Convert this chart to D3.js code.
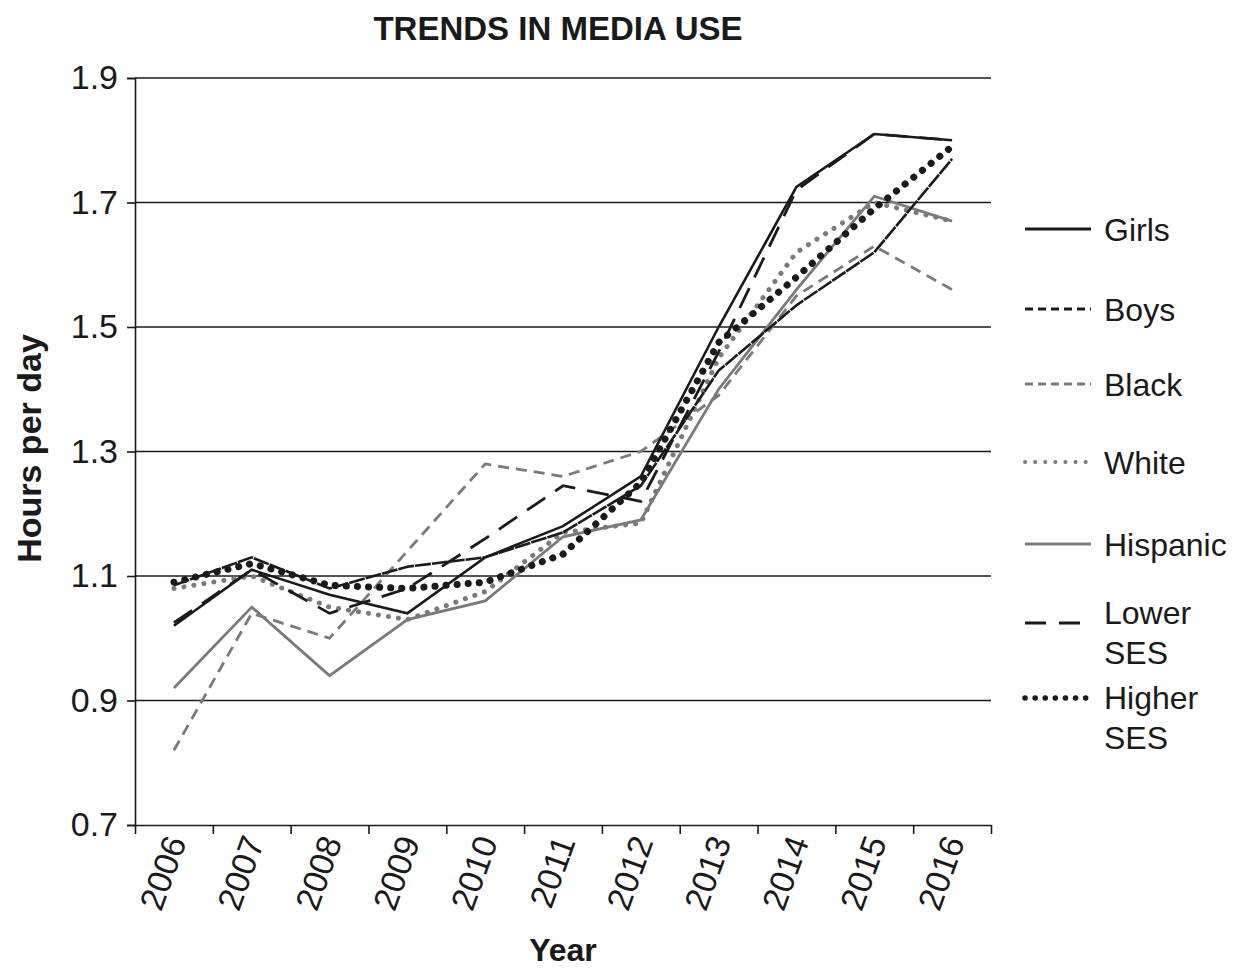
<!DOCTYPE html>
<html>
<head>
<meta charset="utf-8">
<script src="https://cdn.jsdelivr.net/npm/d3@7"></script>
<style>
    body { margin: 0; background: #fff; }
    svg text { font-family: "Liberation Sans", Arial, Helvetica, sans-serif; fill: #1a1a1a; }
</style>
</head>
<body>
<div id="chart"></div>
<script>
// Data
const years = [2006, 2007, 2008, 2009, 2010, 2011, 2012, 2013, 2014, 2015, 2016];
const girls = [1.02, 1.11, 1.07, 1.04, 1.13, 1.18, 1.26, 1.50, 1.725, 1.81, 1.80];
const boys = [1.085, 1.13, 1.08, 1.115, 1.13, 1.17, 1.245, 1.43, 1.535, 1.62, 1.77];
const black = [0.82, 1.04, 1.00, 1.14, 1.28, 1.26, 1.30, 1.39, 1.55, 1.63, 1.56];
const white = [1.08, 1.10, 1.05, 1.03, 1.075, 1.17, 1.185, 1.45, 1.62, 1.70, 1.67];
const hispanic = [0.92, 1.05, 0.94, 1.03, 1.06, 1.163, 1.19, 1.40, 1.56, 1.71, 1.67];
const lowerSes = [1.025, 1.11, 1.04, 1.08, 1.16, 1.245, 1.22, 1.46, 1.72, 1.81, 1.80];
const higherSes = [1.09, 1.12, 1.085, 1.08, 1.09, 1.135, 1.25, 1.475, 1.58, 1.69, 1.79];
const yTicks = [0.7, 0.9, 1.1, 1.3, 1.5, 1.7, 1.9];

const seriesNames = ['Girls', 'Boys', 'Black', 'White', 'Hispanic', 'Lower SES', 'Higher SES'];
const seriesValues = [girls, boys, black, white, hispanic, lowerSes, higherSes];

// Line styles
const styles = {
    'Girls': { color: '#1a1a1a', width: 2.6, dash: null, legendDash: null, cap: 'butt' },
    'Boys': { color: '#1a1a1a', width: 2.6, dash: '16,1', legendDash: '8,5', cap: 'butt' },
    'Black': { color: '#7a7a7a', width: 2.8, dash: '11,7', legendDash: '8,5', cap: 'butt' },
    'White': { color: '#7a7a7a', width: 5, dash: '0.1,10', legendDash: '0.1,10', cap: 'round' },
    'Hispanic': { color: '#7a7a7a', width: 2.8, dash: null, legendDash: null, cap: 'butt' },
    'Lower SES': { color: '#1a1a1a', width: 2.8, dash: '22,12', legendDash: '21,13', cap: 'butt' },
    'Higher SES': { color: '#1a1a1a', width: 7, dash: '0.1,11', legendDash: '0.1,10', cap: 'round' }
};
const drawOrder = ['Black', 'White', 'Hispanic', 'Lower SES', 'Boys', 'Girls', 'Higher SES'];

const width = 1236;
const height = 968;
const margin = { left: 135, right: 245, top: 78, bottom: 143 };
const plotW = width - margin.left - margin.right;
const plotH = height - margin.top - margin.bottom;

const svg = d3.select('#chart')
    .append('svg')
    .attr('width', width)
    .attr('height', height);

// Title
svg.append('text')
    .attr('x', 558)
    .attr('y', 40)
    .attr('text-anchor', 'middle')
    .attr('font-size', 33)
    .attr('font-weight', 'bold')
    .text('TRENDS IN MEDIA USE');

const chart = svg.append('g')
    .attr('transform', `translate(${margin.left},${margin.top})`);

// Scales
const x = d3.scaleBand()
    .domain(years)
    .range([0, plotW]);

const xEdge = d3.scaleLinear()
    .domain([years[0] - 0.5, years[years.length - 1] + 0.5])
    .range([0, plotW]);

const y = d3.scaleLinear()
    .domain([0.7, 1.9])
    .range([plotH, 0]);

// Grid lines
chart.append('g')
    .attr('class', 'grid')
    .selectAll('line')
    .data(yTicks.filter(d => d > 0.7))
    .join('line')
    .attr('x1', 0)
    .attr('x2', plotW)
    .attr('y1', d => y(d))
    .attr('y2', d => y(d))
    .attr('stroke', '#1a1a1a')
    .attr('stroke-width', 1.6);

// Y axis
const yAxis = chart.append('g')
    .attr('class', 'y-axis')
    .call(d3.axisLeft(y).tickValues(yTicks).tickFormat(d3.format('.1f')).tickSize(8).tickPadding(9));

yAxis.selectAll('text')
    .attr('font-size', 34)
    .attr('fill', '#1a1a1a');

// X axis ticks at band edges
const edges = years.map(d => d - 0.5).concat([years[years.length - 1] + 0.5]);
chart.append('g')
    .attr('class', 'x-axis')
    .attr('transform', `translate(0,${plotH})`)
    .call(d3.axisBottom(xEdge).tickValues(edges).tickFormat('').tickSize(9).tickSizeOuter(0));

// X labels
chart.append('g')
    .attr('class', 'x-labels')
    .selectAll('text')
    .data(years)
    .join('text')
    .attr('transform', d => `translate(${x(d) + x.bandwidth() / 2 - 10},${plotH + 8}) rotate(-70)`)
    .attr('text-anchor', 'end')
    .attr('dy', '0.72em')
    .attr('font-size', 34)
    .text(d => d);

chart.selectAll('.domain, .tick line')
    .attr('stroke', '#1a1a1a')
    .attr('stroke-width', 1.6);

// Axis labels
svg.append('text')
    .attr('transform', `translate(41,${margin.top + plotH / 2 - 3}) rotate(-90)`)
    .attr('text-anchor', 'middle')
    .attr('font-size', 34)
    .attr('font-weight', 'bold')
    .text('Hours per day');

svg.append('text')
    .attr('x', 563)
    .attr('y', 961)
    .attr('text-anchor', 'middle')
    .attr('font-size', 32)
    .attr('font-weight', 'bold')
    .text('Year');

// Lines
const line = d3.line()
    .x((d, i) => x(years[i]) + x.bandwidth() / 2)
    .y(d => y(d));

chart.append('g')
    .attr('class', 'lines')
    .selectAll('path')
    .data(drawOrder)
    .join('path')
    .attr('d', name => line(seriesValues[seriesNames.indexOf(name)]))
    .attr('fill', 'none')
    .attr('stroke', name => styles[name].color)
    .attr('stroke-width', name => styles[name].width)
    .attr('stroke-dasharray', name => styles[name].dash)
    .attr('stroke-linecap', name => styles[name].cap)
    .attr('stroke-linejoin', 'miter');

// Legend
const legendRows = [
    { name: 'Girls', lineY: 229, text: ['Girls'], textY: [229] },
    { name: 'Boys', lineY: 309, text: ['Boys'], textY: [309] },
    { name: 'Black', lineY: 384, text: ['Black'], textY: [384] },
    { name: 'White', lineY: 462, text: ['White'], textY: [462] },
    { name: 'Hispanic', lineY: 544, text: ['Hispanic'], textY: [544] },
    { name: 'Lower SES', lineY: 623, text: ['Lower', 'SES'], textY: [612, 652] },
    { name: 'Higher SES', lineY: 698, text: ['Higher', 'SES'], textY: [697, 737] }
];

const legend = svg.append('g')
    .attr('class', 'legend');

const item = legend.selectAll('g')
    .data(legendRows)
    .join('g');

item.append('line')
    .attr('x1', 1025)
    .attr('x2', d => d.name === 'Lower SES' ? 1092 : 1091)
    .attr('y1', d => d.lineY)
    .attr('y2', d => d.lineY)
    .attr('stroke', d => styles[d.name].color)
    .attr('stroke-width', d => d.name === 'Higher SES' ? 5.5 : (d.name === 'White' ? 4 : 2.8))
    .attr('stroke-dasharray', d => styles[d.name].legendDash)
    .attr('stroke-linecap', d => styles[d.name].cap);

item.each(function (d) {
    d3.select(this).selectAll('text')
        .data(d.text.map((t, i) => ({ t, yy: d.textY[i] })))
        .join('text')
        .attr('x', 1104)
        .attr('y', e => e.yy)
        .attr('dy', '0.36em')
        .attr('font-size', 32)
        .text(e => e.t);
});
</script>
</body>
</html>
